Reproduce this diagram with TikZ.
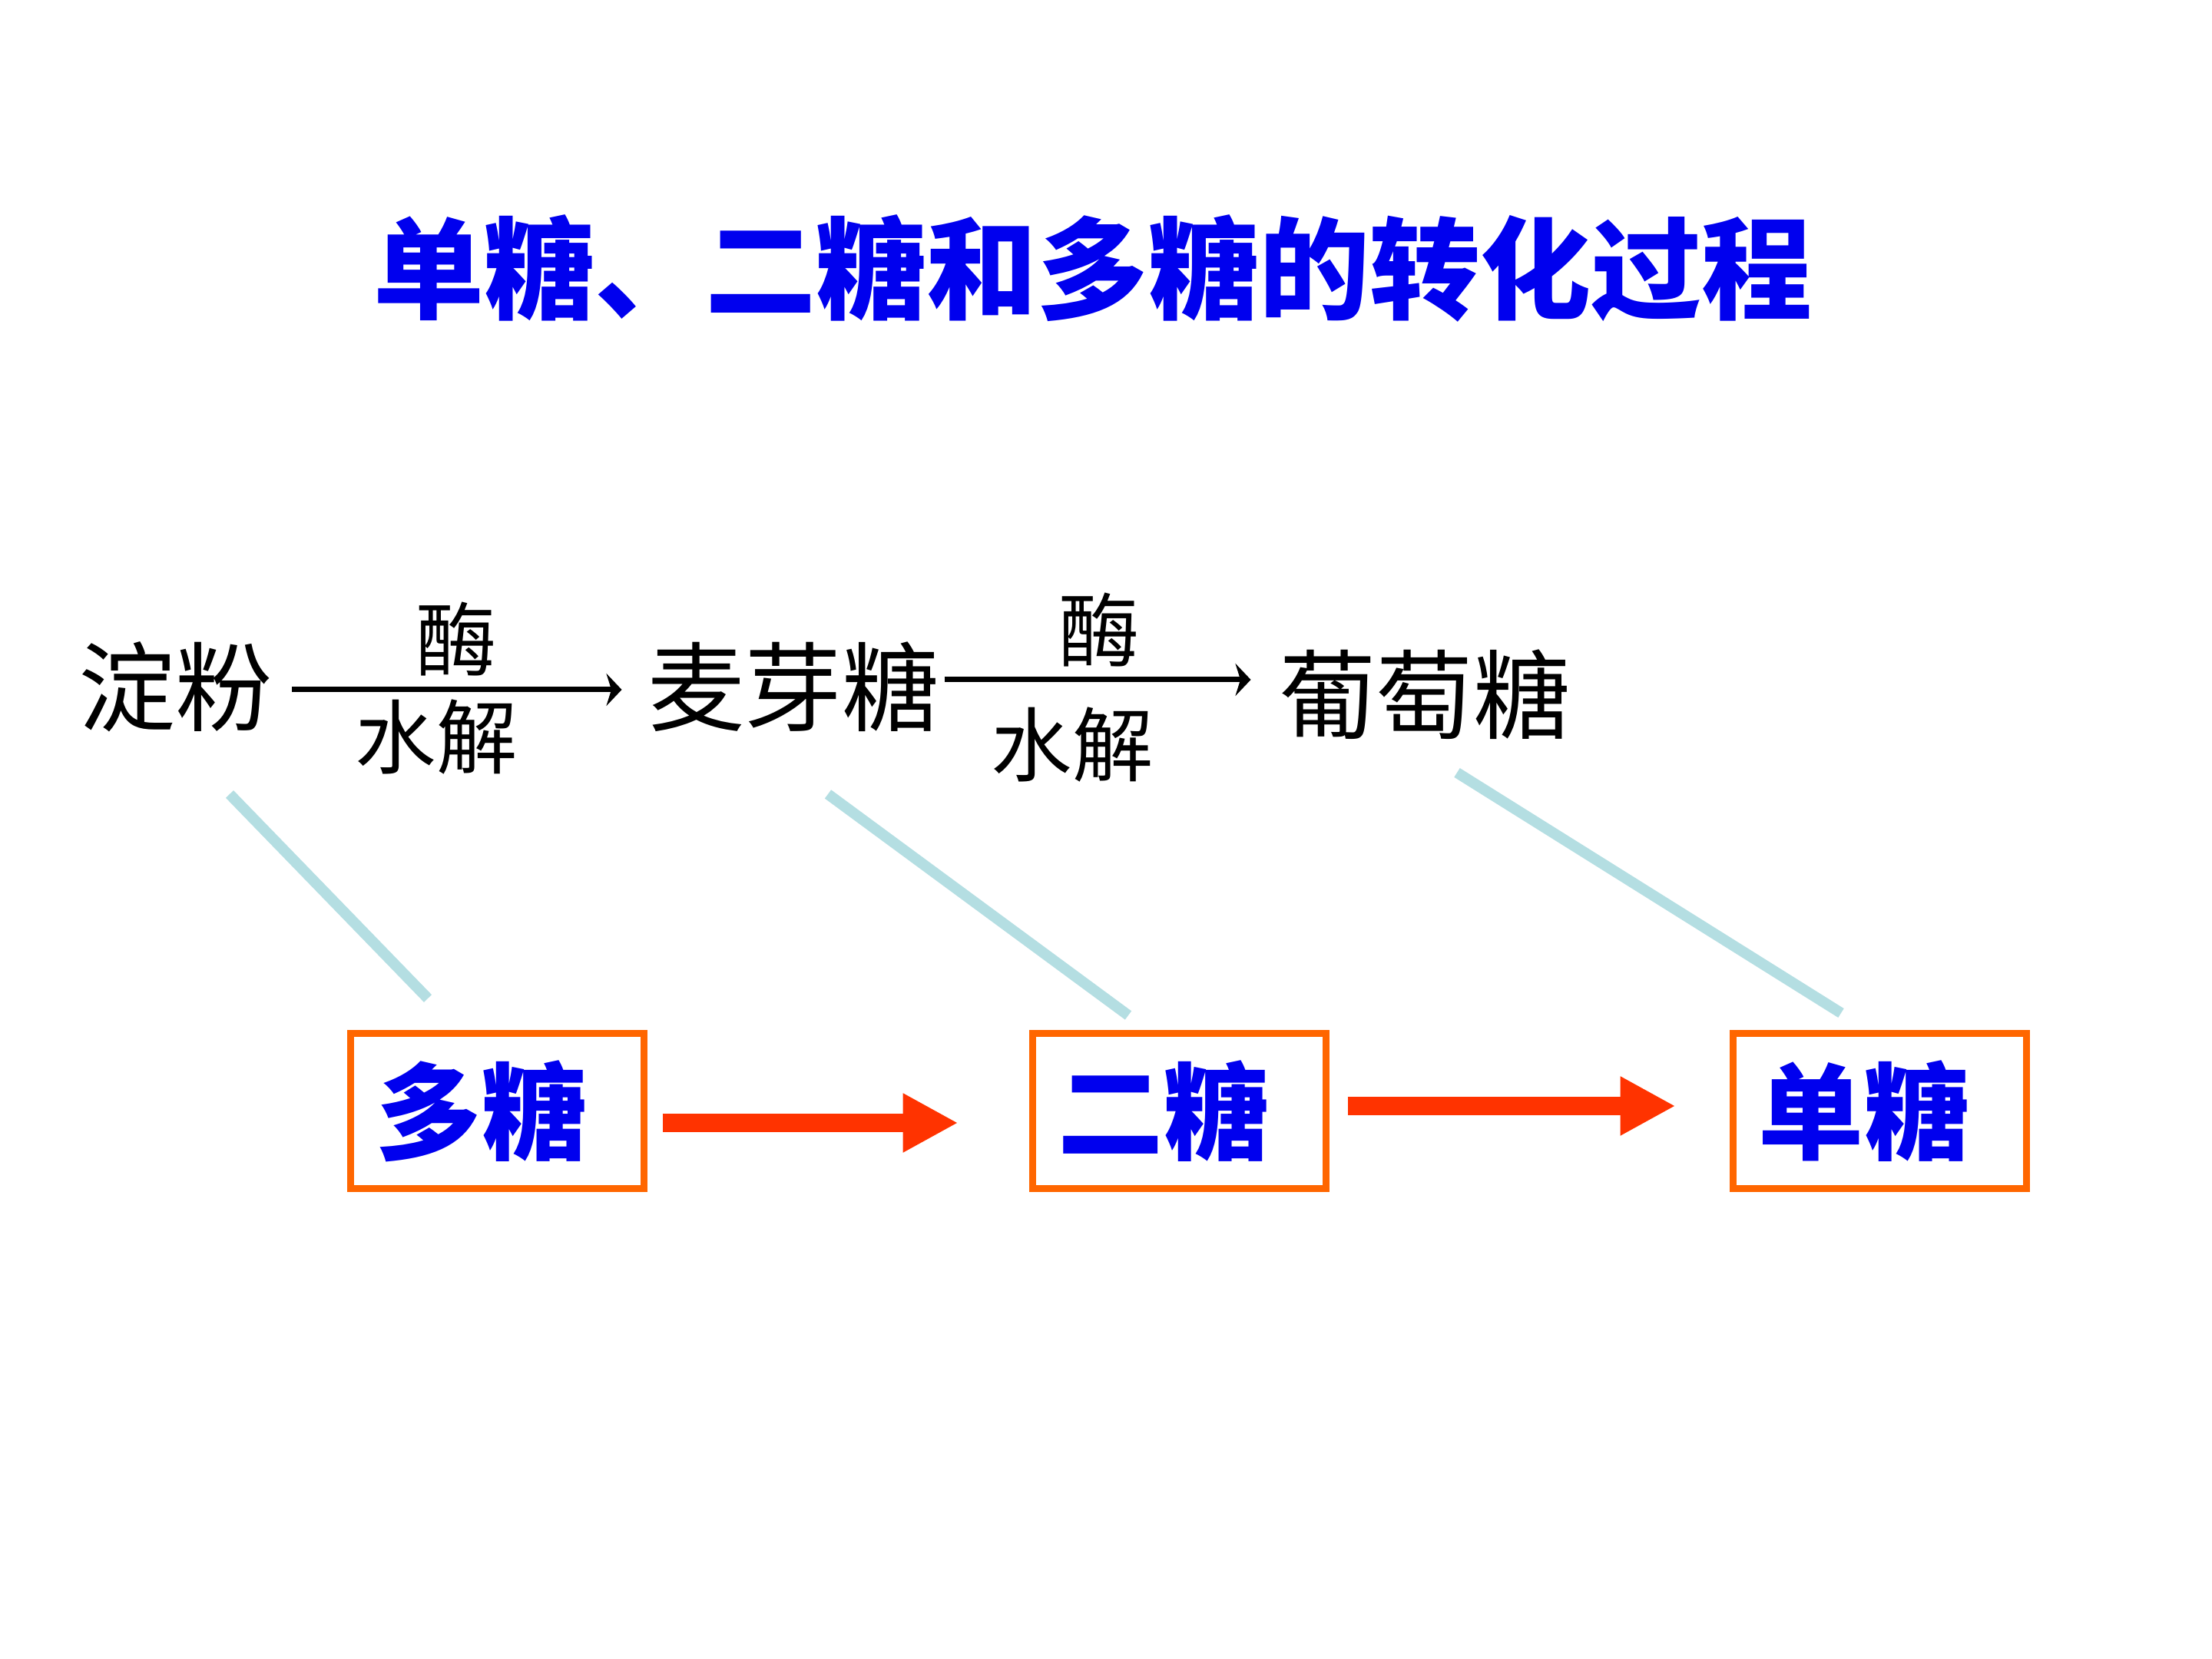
\documentclass[tikz,border=0pt]{standalone}
\usepackage{fontspec}
\newfontfamily\cjk{Noto Sans CJK SC}
\usetikzlibrary{arrows.meta}
\definecolor{titleblue}{RGB}{0,0,238}
\definecolor{boxorange}{RGB}{255,102,0}
\definecolor{arrowred}{RGB}{255,51,0}
\definecolor{linkblue}{RGB}{180,222,226}

\begin{document}
\begin{tikzpicture}[auto]
		% Define styles
		\tikzstyle{title} = [font=\cjk\bfseries\fontsize{41pt}{41pt}\selectfont, text=titleblue, inner sep=0pt]
		\tikzstyle{sugar} = [font=\cjk\fontsize{36pt}{36pt}\selectfont, inner sep=0pt]
		\tikzstyle{cond} = [font=\cjk\fontsize{30pt}{30pt}\selectfont, inner sep=0pt]
		\tikzstyle{kind} = [rectangle, draw=boxorange, line width=0.09cm, minimum width=3.82cm, minimum height=2.02cm, font=\cjk\bfseries\fontsize{39pt}{39pt}\selectfont, text=titleblue]
		\tikzstyle{thinarrow} = [-{Stealth[length=0.2cm, width=0.42cm]}, line width=0.07cm]
		\tikzstyle{bigarrow} = [-{Triangle[length=0.72cm, width=0.72cm]}, line width=0.24cm, draw=arrowred]
		\tikzstyle{link} = [line width=0.14cm, draw=linkblue]
		
		\useasboundingbox (0,0) rectangle (28.8,21.6);
		
		% Nodes
		\node[title] (head) at (14.23,18.11) {单糖、二糖和多糖的转化过程};
		
		\node[sugar] (starch) at (2.29,12.66) {淀粉};
		\node[sugar] (maltose) at (10.33,12.66) {麦芽糖};
		\node[sugar] (glucose) at (18.55,12.56) {葡萄糖};
		
		\node[cond] (enz1) at (5.94,13.28) {酶};
		\node[cond] (hyd1) at (5.68,12.00) {水解};
		\node[cond] (enz2) at (14.31,13.40) {酶};
		\node[cond] (hyd2) at (13.96,11.90) {水解};
		
		\node[kind] (poly) at (6.47,7.13) {多糖\kern0.4cm};
		\node[kind] (di) at (15.35,7.13) {二糖\kern0.4cm};
		\node[kind] (mono) at (24.47,7.13) {单糖\kern0.4cm};
		
		\coordinate (l1a) at (2.99,11.26);
		\coordinate (l1b) at (5.57,8.60);
		\coordinate (l2a) at (10.78,11.26);
		\coordinate (l2b) at (14.69,8.38);
		\coordinate (l3a) at (18.97,11.54);
		\coordinate (l3b) at (23.97,8.41);
		
		% Arrows
		\draw[thinarrow] ([shift={(0.24,-0.04)}]starch.east) -- ([shift={(-0.33,-0.04)}]starch.east -| maltose.west);
		\draw[thinarrow] ([shift={(0.06,0.09)}]maltose.east) -- ([shift={(-0.36,0.09)}]maltose.east -| glucose.west);
		
		\draw[bigarrow] ([shift={(0.2,-0.15)}]poly.east) -- ([shift={(-0.92,-0.15)}]di.west);
		\draw[bigarrow] ([shift={(0.24,0.07)}]di.east) -- ([shift={(-0.70,0.07)}]mono.west);
		
		\draw[link] (l1a) -- (l1b);
		\draw[link] (l2a) -- (l2b);
		\draw[link] (l3a) -- (l3b);
	\end{tikzpicture}
\end{document}
